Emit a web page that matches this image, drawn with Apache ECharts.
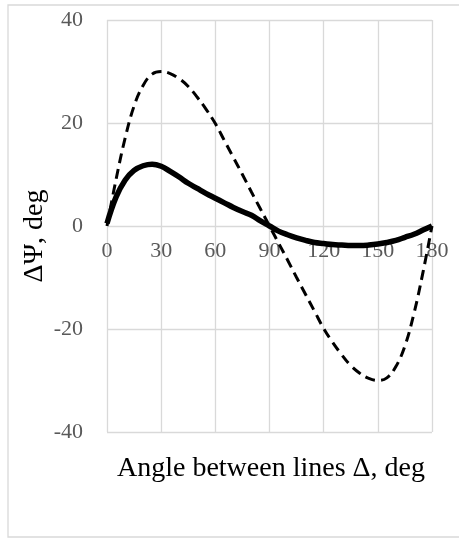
<!DOCTYPE html>
<html>
<head>
<meta charset="utf-8">
<script src="https://cdn.jsdelivr.net/npm/echarts@6/dist/echarts.min.js"></script>
<style>
html,body{margin:0;padding:0;background:#fff;}
#chart{width:459px;height:538px;}
</style>
</head>
<body>
<div id="chart"></div>
<script>
// Data
var angles = [0,5,10,15,20,25,30,35,40,45,50,55,60,65,70,75,80,85,90,95,100,105,110,115,120,125,130,135,140,145,150,155,160,165,170,175,180];
var solidValues = [0.5,5.6,8.9,10.8,11.7,12.0,11.6,10.6,9.5,8.3,7.3,6.3,5.4,4.5,3.6,2.8,2.1,1.0,0.0,-1.0,-1.7,-2.3,-2.8,-3.2,-3.4,-3.6,-3.7,-3.8,-3.8,-3.7,-3.5,-3.2,-2.8,-2.2,-1.6,-0.8,0.0];
var dashedValues = [0.0,9.0,17.0,23.3,27.3,29.5,30.0,29.6,28.6,27.1,25.0,22.6,19.9,16.6,13.3,10.0,6.6,3.3,0.0,-3.3,-6.6,-10.0,-13.3,-16.6,-19.9,-22.6,-25.0,-27.1,-28.6,-29.6,-30.0,-29.5,-27.3,-23.3,-17.0,-9.0,0.0];
var xTicks = [0,30,60,90,120,150,180];
var yTicks = [-40,-20,0,20,40];
var xTitle = 'Angle between lines \u0394, deg';
var yTitle = '\u0394\u03A8, deg';

function pairs(xs, ys){ return xs.map(function(x,i){ return [x, ys[i]]; }); }

var serif = '"Liberation Serif","Times New Roman",serif';
var gridTop = 20, gridBottom = 106, chartH = 538;
var plotH = chartH - gridTop - gridBottom;
// move x-axis labels up to the y = 0 line (half of the symmetric -40..40 range)
var zeroOffset = -plotH * (0 - yTicks[0]) / (yTicks[yTicks.length-1] - yTicks[0]);

var chart = echarts.init(document.getElementById('chart'), null, {renderer:'canvas'});
chart.setOption({
  backgroundColor: '#ffffff',
  animation: false,
  grid: {left:107, right:27, top:gridTop, bottom:gridBottom, containLabel:false},
  xAxis: {
    type:'value', min:xTicks[0], max:xTicks[xTicks.length-1], interval:30,
    position:'bottom', offset: zeroOffset,
    axisLine:{show:false, onZero:false},
    axisTick:{show:false},
    axisLabel:{fontSize:22, color:'#595959', fontFamily:serif, margin:14},
    splitLine:{show:true, lineStyle:{color:'#d9d9d9', width:1.3}}
  },
  yAxis: {
    type:'value', min:yTicks[0], max:yTicks[yTicks.length-1], interval:20,
    axisLine:{show:false},
    axisTick:{show:false},
    axisLabel:{fontSize:22, color:'#595959', fontFamily:serif, margin:24},
    splitLine:{show:true, lineStyle:{color:'#d9d9d9', width:1.3}}
  },
  graphic: [
    {type:'rect', shape:{x:8, y:5, width:470, height:532}, style:{fill:'none', stroke:'#d9d9d9', lineWidth:1.3}, silent:true, z:-10},
    {type:'text', x:271, y:469, style:{text:xTitle, font:'28px ' + serif, fill:'#000', textAlign:'center', textVerticalAlign:'middle'}},
    {type:'text', x:35, y:236, rotation:Math.PI/2, style:{text:yTitle, font:'28px ' + serif, fill:'#000', textAlign:'center', textVerticalAlign:'middle'}}
  ],
  series: [
    {type:'line', data:pairs(angles, dashedValues), showSymbol:false, symbol:'none', smooth:0.4,
     lineStyle:{color:'#000', width:3, type:[10,6]}, z:2},
    {type:'line', data:pairs(angles, solidValues), showSymbol:false, symbol:'none', smooth:0.4,
     lineStyle:{color:'#000', width:5.5}, z:3}
  ]
});
</script>
</body>
</html>
